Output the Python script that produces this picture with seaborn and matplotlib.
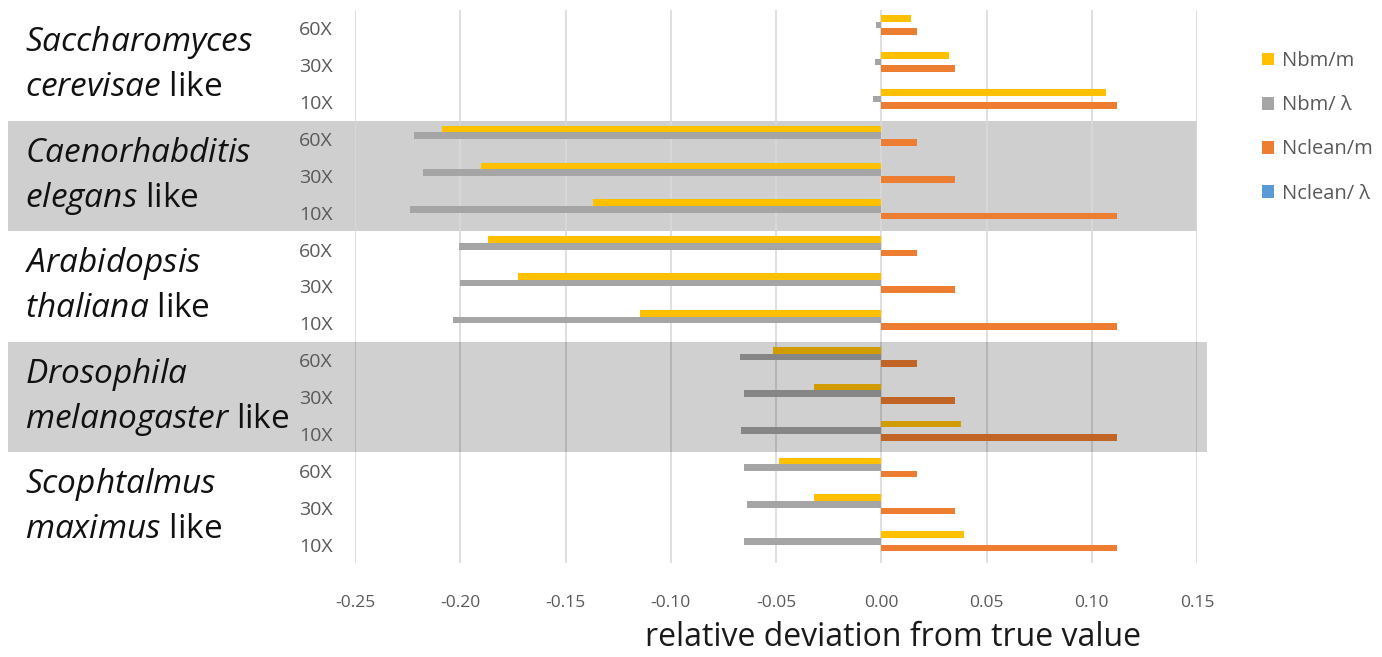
import matplotlib
matplotlib.use("Agg")
import matplotlib.pyplot as plt
import matplotlib.transforms as mtransforms
from matplotlib.patches import Rectangle
import seaborn as sns
import pandas as pd

# ---------------- data ----------------
species_line1 = ["Saccharomyces", "Caenorhabditis", "Arabidopsis", "Drosophila", "Scophtalmus"]
species_line2 = ["cerevisae", "elegans", "thaliana", "melanogaster", "maximus"]
coverages = ["60X", "30X", "10X"]
series = ["Nbm/m", "Nbm/ λ", "Nclean/m", "Nclean/ λ"]

# values per species, ordered 60X, 30X, 10X
nbm_m = [
    [0.014, 0.032, 0.107],
    [-0.2085, -0.190, -0.137],
    [-0.187, -0.1725, -0.1145],
    [-0.0515, -0.032, 0.038],
    [-0.0485, -0.032, 0.0395],
]
nbm_lambda = [
    [-0.0025, -0.003, -0.004],
    [-0.222, -0.2175, -0.224],
    [-0.2005, -0.200, -0.2035],
    [-0.067, -0.065, -0.0665],
    [-0.065, -0.064, -0.065],
]
nclean_m = [
    [0.017, 0.035, 0.112],
    [0.017, 0.035, 0.112],
    [0.017, 0.035, 0.112],
    [0.017, 0.035, 0.112],
    [0.017, 0.035, 0.112],
]
nclean_lambda = [
    [0.0, 0.0, 0.0],
    [0.0, 0.0, 0.0],
    [0.0, 0.0, 0.0],
    [0.0, 0.0, 0.0],
    [0.0, 0.0, 0.0],
]
colors = ["#FFC000", "#A5A5A5", "#ED7D31", "#5B9BD5"]
x_ticks = [-0.25, -0.20, -0.15, -0.10, -0.05, 0.00, 0.05, 0.10, 0.15]

# ---------------- table ----------------
rows = []
order = []
for i, sp in enumerate(species_line1):
    for j, cov in enumerate(coverages):
        key = f"{sp}|{cov}"
        order.append(key)
        for s, vals in zip(series, [nbm_m, nbm_lambda, nclean_m, nclean_lambda]):
            rows.append({"row": key, "series": s, "value": vals[i][j]})
df = pd.DataFrame(rows)

# ---------------- plot ----------------
sns.set_style("white")
plt.rcParams["font.family"] = ["Open Sans", "DejaVu Sans"]
plt.rcParams["mathtext.fontset"] = "custom"
plt.rcParams["mathtext.it"] = "Open Sans:italic"
plt.rcParams["mathtext.rm"] = "Open Sans"

W, H = 1382, 657
fig = plt.figure(figsize=(W / 100, H / 100), dpi=100)
left, right, top, bottom = 355, 1197, 10, 563
ax = fig.add_axes([left / W, 1 - bottom / H, (right - left) / W, (bottom - top) / H])

sns.barplot(data=df, x="value", y="row", hue="series", order=order,
            hue_order=series, palette=colors, saturation=1, width=0.72,
            orient="h", linewidth=0, ax=ax, errorbar=None)

ax.set_xlim(-0.25, 0.15)
ax.set_ylim(len(order) - 0.5, -0.5)
ax.set_xticks(x_ticks)
ax.set_xticklabels([f"{t:.2f}" for t in x_ticks])
ax.set_yticks(range(len(order)))
ax.set_yticklabels(coverages * len(species_line1))
ax.set_xlabel("")
ax.set_ylabel("")
ax.grid(axis="x", color="#D9D9D9", linewidth=1.2)
ax.grid(axis="y", visible=False)
ax.set_axisbelow(True)
ax.yaxis.set_zorder(5)
for sp in ax.spines.values():
    sp.set_visible(False)
ax.tick_params(axis="x", length=0, pad=23, labelsize=12.5, labelcolor="#595959")
ax.tick_params(axis="y", length=0, pad=16, labelsize=14, labelcolor="#595959")

# shaded bands
blend = mtransforms.blended_transform_factory(fig.transFigure, ax.transData)
ax.add_patch(Rectangle((8 / W, 2.5), (1197 - 8) / W, 3.0, transform=blend,
                       facecolor="#CFCFCF", edgecolor="none", zorder=0.1, clip_on=False))
ax.add_patch(Rectangle((8 / W, 8.5), (1207 - 8) / W, 3.0, transform=blend,
                       facecolor="black", alpha=0.185, edgecolor="none", zorder=3, clip_on=False))

# species labels
for i, (l1, l2) in enumerate(zip(species_line1, species_line2)):
    c = 3 * i + 1
    ax.text(25 / W, c - 0.62, rf"$\mathit{{{l1}}}$", transform=blend, fontsize=24,
            va="center", ha="left", color="#111111", zorder=6)
    ax.text(25 / W, c + 0.6, rf"$\mathit{{{l2}}}$ like", transform=blend, fontsize=24,
            va="center", ha="left", color="#111111", zorder=6)

# x label
fig.text(893 / W, 1 - 637 / H, "relative deviation from true value", fontsize=23,
         ha="center", va="center", color="#1a1a1a")

# legend
handles, labels = ax.get_legend_handles_labels()
if ax.legend_:
    ax.legend_.remove()
fig.legend(handles, labels, loc="upper left", bbox_to_anchor=(1252 / W, 1 - 41 / H),
           frameon=False, fontsize=14.5, labelcolor="#595959", handlelength=0.6,
           handleheight=0.6, handletextpad=0.4, labelspacing=1.2, borderpad=0)

fig.savefig("out.png", dpi=100)
